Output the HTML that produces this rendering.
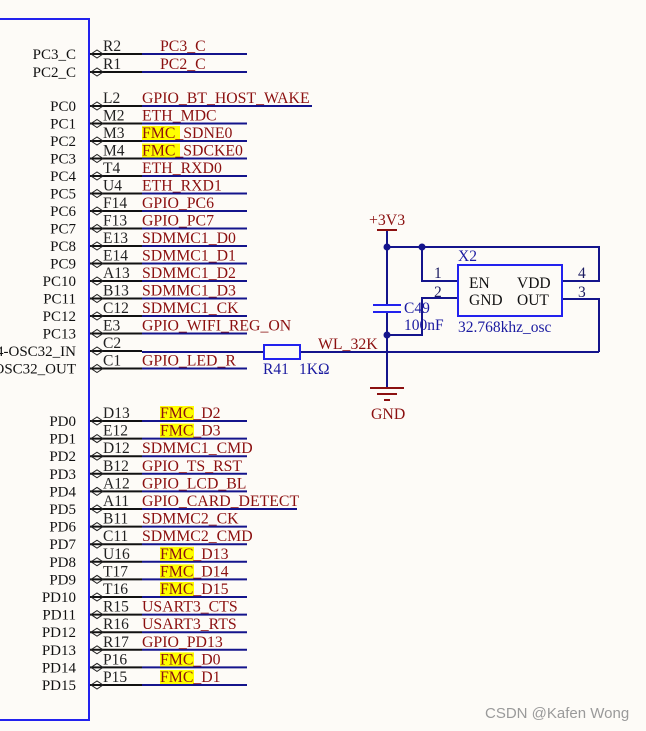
<!DOCTYPE html>
<html><head><meta charset="utf-8"><style>
html,body{margin:0;padding:0;background:#fdfbf7;}
svg{display:block;font-family:"Liberation Serif",serif;}
.pn{font-size:15px;fill:#111;text-anchor:end}
.pin{font-size:15.5px;fill:#222}
.net{font-size:15.8px;fill:#8b1010}
.bl{stroke:#14148c;stroke-width:2}
.bk{stroke:#111;stroke-width:2}
.ar{fill:none;stroke:#222;stroke-width:1}
.hl{fill:#ffff00}
</style></head><body>
<svg width="646" height="731" viewBox="0 0 646 731" xmlns="http://www.w3.org/2000/svg">
<rect width="646" height="731" fill="#fdfbf7"/>
<polyline points="0,19 89,19 89,720 0,720" fill="none" stroke="#2222ee" stroke-width="2"/>

<g class="bk">
<line x1="90" y1="54" x2="142" y2="54"/><line x1="90" y1="72" x2="142" y2="72"/>
<line x1="90" y1="106" x2="142" y2="106"/><line x1="90" y1="123.5" x2="142" y2="123.5"/><line x1="90" y1="141" x2="142" y2="141"/><line x1="90" y1="158.5" x2="142" y2="158.5"/><line x1="90" y1="176" x2="142" y2="176"/><line x1="90" y1="193.5" x2="142" y2="193.5"/><line x1="90" y1="211" x2="142" y2="211"/><line x1="90" y1="228.5" x2="142" y2="228.5"/><line x1="90" y1="246" x2="142" y2="246"/><line x1="90" y1="263.5" x2="142" y2="263.5"/><line x1="90" y1="281" x2="142" y2="281"/><line x1="90" y1="298.5" x2="142" y2="298.5"/><line x1="90" y1="316" x2="142" y2="316"/><line x1="90" y1="333.5" x2="142" y2="333.5"/><line x1="90" y1="351" x2="142" y2="351"/><line x1="90" y1="368.5" x2="142" y2="368.5"/>
<line x1="90" y1="421" x2="142" y2="421"/><line x1="90" y1="438.6" x2="142" y2="438.6"/><line x1="90" y1="456.2" x2="142" y2="456.2"/><line x1="90" y1="473.8" x2="142" y2="473.8"/><line x1="90" y1="491.4" x2="142" y2="491.4"/><line x1="90" y1="509" x2="142" y2="509"/><line x1="90" y1="526.6" x2="142" y2="526.6"/><line x1="90" y1="544.2" x2="142" y2="544.2"/><line x1="90" y1="561.8" x2="142" y2="561.8"/><line x1="90" y1="579.4" x2="142" y2="579.4"/><line x1="90" y1="597" x2="142" y2="597"/><line x1="90" y1="614.6" x2="142" y2="614.6"/><line x1="90" y1="632.2" x2="142" y2="632.2"/><line x1="90" y1="649.8" x2="142" y2="649.8"/><line x1="90" y1="667.4" x2="142" y2="667.4"/><line x1="90" y1="685" x2="142" y2="685"/>
</g>
<g class="bl">
<line x1="142" y1="54" x2="247" y2="54"/><line x1="142" y1="72" x2="247" y2="72"/>
<line x1="142" y1="106" x2="312" y2="106"/><line x1="142" y1="123.5" x2="247" y2="123.5"/><line x1="142" y1="141" x2="247" y2="141"/><line x1="142" y1="158.5" x2="247" y2="158.5"/><line x1="142" y1="176" x2="247" y2="176"/><line x1="142" y1="193.5" x2="247" y2="193.5"/><line x1="142" y1="211" x2="247" y2="211"/><line x1="142" y1="228.5" x2="247" y2="228.5"/><line x1="142" y1="246" x2="247" y2="246"/><line x1="142" y1="263.5" x2="247" y2="263.5"/><line x1="142" y1="281" x2="247" y2="281"/><line x1="142" y1="298.5" x2="247" y2="298.5"/><line x1="142" y1="316" x2="247" y2="316"/><line x1="142" y1="333.5" x2="247" y2="333.5"/><line x1="142" y1="368.5" x2="247" y2="368.5"/>
<line x1="142" y1="421" x2="247" y2="421"/><line x1="142" y1="438.6" x2="247" y2="438.6"/><line x1="142" y1="456.2" x2="247" y2="456.2"/><line x1="142" y1="473.8" x2="247" y2="473.8"/><line x1="142" y1="491.4" x2="247" y2="491.4"/><line x1="142" y1="509" x2="297" y2="509"/><line x1="142" y1="526.6" x2="247" y2="526.6"/><line x1="142" y1="544.2" x2="247" y2="544.2"/><line x1="142" y1="561.8" x2="247" y2="561.8"/><line x1="142" y1="579.4" x2="247" y2="579.4"/><line x1="142" y1="597" x2="247" y2="597"/><line x1="142" y1="614.6" x2="247" y2="614.6"/><line x1="142" y1="632.2" x2="247" y2="632.2"/><line x1="142" y1="649.8" x2="247" y2="649.8"/><line x1="142" y1="667.4" x2="247" y2="667.4"/><line x1="142" y1="685" x2="247" y2="685"/>
</g>

<g class="ar">
<path d="M91,54 l6,-4 l6,4 l-6,4z"/><path d="M91,72 l6,-4 l6,4 l-6,4z"/>
<path d="M91,106 l6,-4 l6,4 l-6,4z"/><path d="M91,123.5 l6,-4 l6,4 l-6,4z"/><path d="M91,141 l6,-4 l6,4 l-6,4z"/><path d="M91,158.5 l6,-4 l6,4 l-6,4z"/><path d="M91,176 l6,-4 l6,4 l-6,4z"/><path d="M91,193.5 l6,-4 l6,4 l-6,4z"/><path d="M91,211 l6,-4 l6,4 l-6,4z"/><path d="M91,228.5 l6,-4 l6,4 l-6,4z"/><path d="M91,246 l6,-4 l6,4 l-6,4z"/><path d="M91,263.5 l6,-4 l6,4 l-6,4z"/><path d="M91,281 l6,-4 l6,4 l-6,4z"/><path d="M91,298.5 l6,-4 l6,4 l-6,4z"/><path d="M91,316 l6,-4 l6,4 l-6,4z"/><path d="M91,333.5 l6,-4 l6,4 l-6,4z"/><path d="M91,351 l6,-4 l6,4 l-6,4z"/><path d="M91,368.5 l6,-4 l6,4 l-6,4z"/>
<path d="M91,421 l6,-4 l6,4 l-6,4z"/><path d="M91,438.6 l6,-4 l6,4 l-6,4z"/><path d="M91,456.2 l6,-4 l6,4 l-6,4z"/><path d="M91,473.8 l6,-4 l6,4 l-6,4z"/><path d="M91,491.4 l6,-4 l6,4 l-6,4z"/><path d="M91,509 l6,-4 l6,4 l-6,4z"/><path d="M91,526.6 l6,-4 l6,4 l-6,4z"/><path d="M91,544.2 l6,-4 l6,4 l-6,4z"/><path d="M91,561.8 l6,-4 l6,4 l-6,4z"/><path d="M91,579.4 l6,-4 l6,4 l-6,4z"/><path d="M91,597 l6,-4 l6,4 l-6,4z"/><path d="M91,614.6 l6,-4 l6,4 l-6,4z"/><path d="M91,632.2 l6,-4 l6,4 l-6,4z"/><path d="M91,649.8 l6,-4 l6,4 l-6,4z"/><path d="M91,667.4 l6,-4 l6,4 l-6,4z"/><path d="M91,685 l6,-4 l6,4 l-6,4z"/>
</g>

<rect class="hl" x="142" y="126" width="38" height="14"/>
<rect class="hl" x="142" y="143.5" width="38" height="14"/>
<rect class="hl" x="160" y="406" width="34" height="14"/>
<rect class="hl" x="160" y="423.6" width="34" height="14"/>
<rect class="hl" x="160" y="546.8" width="34" height="14"/>
<rect class="hl" x="160" y="564.4" width="34" height="14"/>
<rect class="hl" x="160" y="582" width="34" height="14"/>
<rect class="hl" x="160" y="652.4" width="34" height="14"/>
<rect class="hl" x="160" y="670" width="34" height="14"/>

<g class="pn">
<text x="76" y="59">PC3_C</text><text x="76" y="77">PC2_C</text>
<text x="76" y="111">PC0</text><text x="76" y="128.5">PC1</text><text x="76" y="146">PC2</text><text x="76" y="163.5">PC3</text><text x="76" y="181">PC4</text><text x="76" y="198.5">PC5</text><text x="76" y="216">PC6</text><text x="76" y="233.5">PC7</text><text x="76" y="251">PC8</text><text x="76" y="268.5">PC9</text><text x="76" y="286">PC10</text><text x="76" y="303.5">PC11</text><text x="76" y="321">PC12</text><text x="76" y="338.5">PC13</text><text x="76" y="356">PC14-OSC32_IN</text><text x="76" y="373.5">PC15-OSC32_OUT</text>
<text x="76" y="426">PD0</text><text x="76" y="443.6">PD1</text><text x="76" y="461.2">PD2</text><text x="76" y="478.8">PD3</text><text x="76" y="496.4">PD4</text><text x="76" y="514">PD5</text><text x="76" y="531.6">PD6</text><text x="76" y="549.2">PD7</text><text x="76" y="566.8">PD8</text><text x="76" y="584.4">PD9</text><text x="76" y="602">PD10</text><text x="76" y="619.6">PD11</text><text x="76" y="637.2">PD12</text><text x="76" y="654.8">PD13</text><text x="76" y="672.4">PD14</text><text x="76" y="690">PD15</text>
</g>

<g class="pin">
<text x="103" y="51">R2</text><text x="103" y="69">R1</text>
<text x="103" y="103">L2</text><text x="103" y="120.5">M2</text><text x="103" y="138">M3</text><text x="103" y="155.5">M4</text><text x="103" y="173">T4</text><text x="103" y="190.5">U4</text><text x="103" y="208">F14</text><text x="103" y="225.5">F13</text><text x="103" y="243">E13</text><text x="103" y="260.5">E14</text><text x="103" y="278">A13</text><text x="103" y="295.5">B13</text><text x="103" y="313">C12</text><text x="103" y="330.5">E3</text><text x="103" y="348">C2</text><text x="103" y="365.5">C1</text>
<text x="103" y="418">D13</text><text x="103" y="435.6">E12</text><text x="103" y="453.2">D12</text><text x="103" y="470.8">B12</text><text x="103" y="488.4">A12</text><text x="103" y="506">A11</text><text x="103" y="523.6">B11</text><text x="103" y="541.2">C11</text><text x="103" y="558.8">U16</text><text x="103" y="576.4">T17</text><text x="103" y="594">T16</text><text x="103" y="611.6">R15</text><text x="103" y="629.2">R16</text><text x="103" y="646.8">R17</text><text x="103" y="664.4">P16</text><text x="103" y="682">P15</text>
</g>

<g class="net">
<text x="160" y="51">PC3_C</text><text x="160" y="69">PC2_C</text>
<text x="142" y="103">GPIO_BT_HOST_WAKE</text><text x="142" y="120.5">ETH_MDC</text><text x="142" y="138">FMC_SDNE0</text><text x="142" y="155.5">FMC_SDCKE0</text><text x="142" y="173">ETH_RXD0</text><text x="142" y="190.5">ETH_RXD1</text><text x="142" y="208">GPIO_PC6</text><text x="142" y="225.5">GPIO_PC7</text><text x="142" y="243">SDMMC1_D0</text><text x="142" y="260.5">SDMMC1_D1</text><text x="142" y="278">SDMMC1_D2</text><text x="142" y="295.5">SDMMC1_D3</text><text x="142" y="313">SDMMC1_CK</text><text x="142" y="330.5">GPIO_WIFI_REG_ON</text><text x="142" y="365.5">GPIO_LED_R</text>
<text x="160" y="418">FMC_D2</text><text x="160" y="435.6">FMC_D3</text><text x="142" y="453.2">SDMMC1_CMD</text><text x="142" y="470.8">GPIO_TS_RST</text><text x="142" y="488.4">GPIO_LCD_BL</text><text x="142" y="506">GPIO_CARD_DETECT</text><text x="142" y="523.6">SDMMC2_CK</text><text x="142" y="541.2">SDMMC2_CMD</text><text x="160" y="558.8">FMC_D13</text><text x="160" y="576.4">FMC_D14</text><text x="160" y="594">FMC_D15</text><text x="142" y="611.6">USART3_CTS</text><text x="142" y="629.2">USART3_RTS</text><text x="142" y="646.8">GPIO_PD13</text><text x="160" y="664.4">FMC_D0</text><text x="160" y="682">FMC_D1</text>
<text x="318" y="349">WL_32K</text>
<text x="369" y="225">+3V3</text>
<text x="371" y="419">GND</text>
</g>

<g fill="none" stroke="#14148c" stroke-width="2">
<line x1="142" y1="352" x2="264" y2="352"/>
<line x1="300" y1="352" x2="599" y2="352"/>
<polyline points="599,352 599,299 562,299"/>
<line x1="387" y1="230" x2="387" y2="305"/>
<line x1="387" y1="313" x2="387" y2="388"/>
<polyline points="387,247 599,247 599,281 562,281"/>
<polyline points="422,247 422,281 458,281"/>
<polyline points="458,298 422,298 422,335 387,335"/>
</g>
<rect x="264" y="345" width="36" height="14" fill="none" stroke="#2222ee" stroke-width="2"/>
<rect x="458" y="265" width="104" height="51" fill="none" stroke="#2222ee" stroke-width="2"/>
<line x1="373" y1="305" x2="401" y2="305" stroke="#2222ee" stroke-width="2"/>
<line x1="373" y1="312" x2="401" y2="312" stroke="#2222ee" stroke-width="2"/>
<circle cx="387" cy="247" r="3.5" fill="#14148c"/>
<circle cx="422" cy="247" r="3.5" fill="#14148c"/>
<circle cx="387" cy="335" r="3.5" fill="#14148c"/>
<g stroke="#8b1010" stroke-width="2">
<line x1="377" y1="230" x2="397" y2="230"/>
<line x1="370" y1="388" x2="404" y2="388"/>
<line x1="377" y1="394" x2="397" y2="394"/>
<line x1="384" y1="400" x2="390" y2="400"/>
</g>
<g font-size="15.5" fill="#1a1a60">
<text x="434" y="278">1</text><text x="434" y="297">2</text>
<text x="578" y="278">4</text><text x="578" y="297">3</text>
</g>
<g font-size="15.5" fill="#111">
<text x="469" y="288">EN</text><text x="469" y="305">GND</text>
<text x="517" y="288">VDD</text><text x="517" y="305">OUT</text>
</g>
<g font-size="15.5" fill="#1a1aa0">
<text x="458" y="261">X2</text>
<text x="458" y="332">32.768khz_osc</text>
<text x="404" y="313">C49</text>
<text x="404" y="330">100nF</text>
<text x="263" y="374">R41</text>
<text x="299" y="374">1KΩ</text>
</g>
<text x="485" y="718" font-family="Liberation Sans,sans-serif" font-size="15" fill="#9a9a9a">CSDN @Kafen Wong</text>
</svg>
</body></html>
